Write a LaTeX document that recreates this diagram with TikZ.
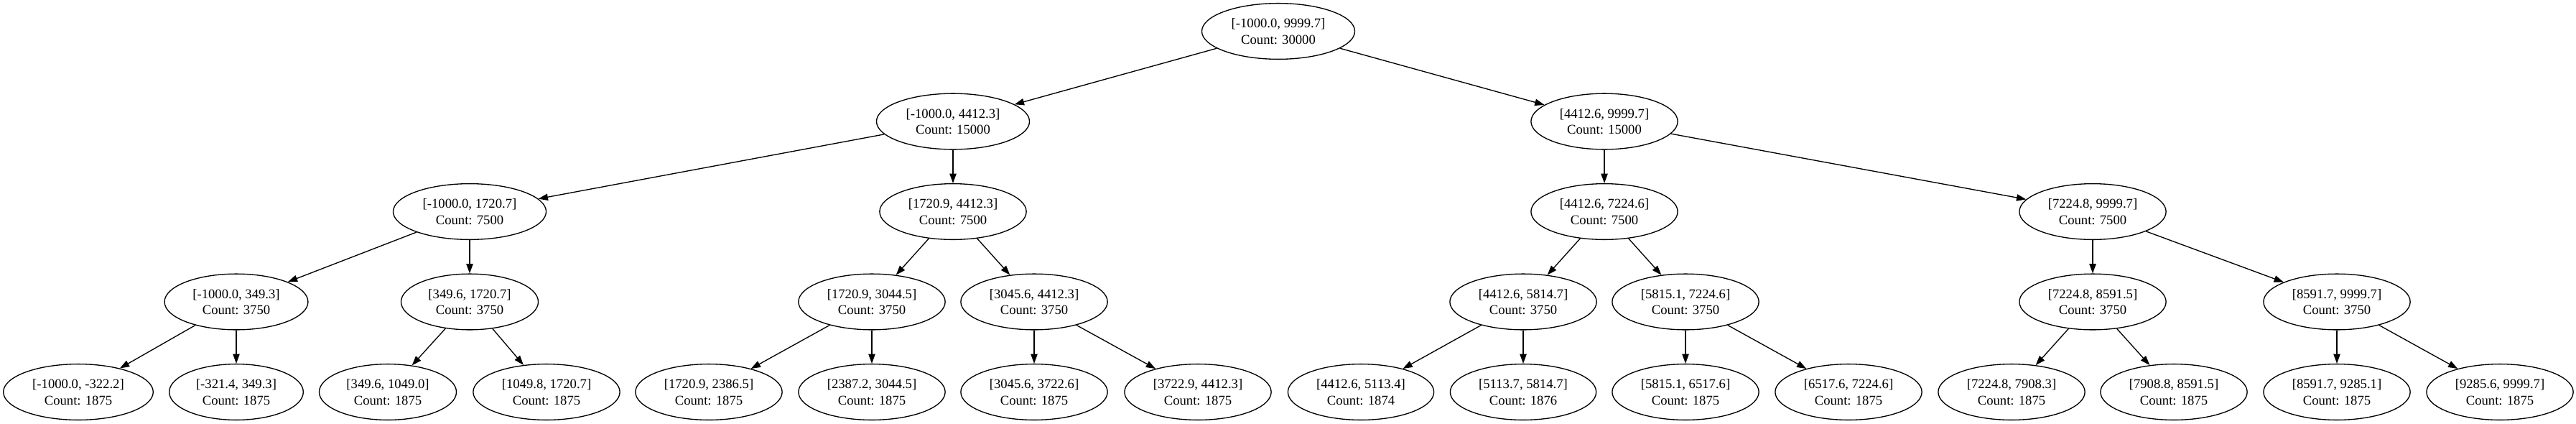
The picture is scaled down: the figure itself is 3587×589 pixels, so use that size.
\documentclass[tikz,border=0pt]{standalone}
\usepackage{fontspec}
\setmainfont{Liberation Serif}
\usetikzlibrary{arrows.meta,shapes.geometric}
\begin{document}
\begin{tikzpicture}[x=0.75bp,y=-0.75bp,
  tn/.style={ellipse, draw, line width=1bp, inner xsep=7.5bp, inner ysep=0pt,
    minimum height=58.3bp, align=center, font=\fontsize{14bp}{16.8bp}\selectfont,
    execute at begin node={\rule{0pt}{13.5bp}}},
  ed/.style={-{Triangle[length=10bp,width=7bp]}, line width=1bp}]
\useasboundingbox (0,0) rectangle (3587,589);
% level 0
\node[tn] (r) at (1780,43.5) {[-1000.0, 9999.7]\\Count: 30000};
% level 1
\node[tn] (a) at (1327,169) {[-1000.0, 4412.3]\\Count: 15000};
\node[tn] (b) at (2234,169) {[4412.6, 9999.7]\\Count: 15000};
% level 2
\node[tn] (aa) at (654,294.5) {[-1000.0, 1720.7]\\Count: 7500};
\node[tn] (ab) at (1327,294.5) {[1720.9, 4412.3]\\Count: 7500};
\node[tn] (ba) at (2234,294.5) {[4412.6, 7224.6]\\Count: 7500};
\node[tn] (bb) at (2914,294.5) {[7224.8, 9999.7]\\Count: 7500};
% level 3
\node[tn] (aaa) at (329,420) {[-1000.0, 349.3]\\Count: 3750};
\node[tn] (aab) at (654,420) {[349.6, 1720.7]\\Count: 3750};
\node[tn] (aba) at (1214,420) {[1720.9, 3044.5]\\Count: 3750};
\node[tn] (abb) at (1440,420) {[3045.6, 4412.3]\\Count: 3750};
\node[tn] (baa) at (2121,420) {[4412.6, 5814.7]\\Count: 3750};
\node[tn] (bab) at (2347,420) {[5815.1, 7224.6]\\Count: 3750};
\node[tn] (bba) at (2914,420) {[7224.8, 8591.5]\\Count: 3750};
\node[tn] (bbb) at (3254,420) {[8591.7, 9999.7]\\Count: 3750};
% level 4
\node[tn] (l1) at (109,545.5) {[-1000.0, -322.2]\\Count: 1875};
\node[tn] (l2) at (329,545.5) {[-321.4, 349.3]\\Count: 1875};
\node[tn] (l3) at (540,545.5) {[349.6, 1049.0]\\Count: 1875};
\node[tn] (l4) at (761,545.5) {[1049.8, 1720.7]\\Count: 1875};
\node[tn] (l5) at (987,545.5) {[1720.9, 2386.5]\\Count: 1875};
\node[tn] (l6) at (1214,545.5) {[2387.2, 3044.5]\\Count: 1875};
\node[tn] (l7) at (1440,545.5) {[3045.6, 3722.6]\\Count: 1875};
\node[tn] (l8) at (1668,545.5) {[3722.9, 4412.3]\\Count: 1875};
\node[tn] (l9) at (1895,545.5) {[4412.6, 5113.4]\\Count: 1874};
\node[tn] (l10) at (2121,545.5) {[5113.7, 5814.7]\\Count: 1876};
\node[tn] (l11) at (2347,545.5) {[5815.1, 6517.6]\\Count: 1875};
\node[tn] (l12) at (2574,545.5) {[6517.6, 7224.6]\\Count: 1875};
\node[tn] (l13) at (2801,545.5) {[7224.8, 7908.3]\\Count: 1875};
\node[tn] (l14) at (3027,545.5) {[7908.8, 8591.5]\\Count: 1875};
\node[tn] (l15) at (3254,545.5) {[8591.7, 9285.1]\\Count: 1875};
\node[tn] (l16) at (3481,545.5) {[9285.6, 9999.7]\\Count: 1875};
% edges
\draw[ed] (r) -- (a);
\draw[ed] (r) -- (b);
\draw[ed] (a) -- (aa);
\draw[ed] (a) -- (ab);
\draw[ed] (b) -- (ba);
\draw[ed] (b) -- (bb);
\draw[ed] (aa) -- (aaa);
\draw[ed] (aa) -- (aab);
\draw[ed] (ab) -- (aba);
\draw[ed] (ab) -- (abb);
\draw[ed] (ba) -- (baa);
\draw[ed] (ba) -- (bab);
\draw[ed] (bb) -- (bba);
\draw[ed] (bb) -- (bbb);
\draw[ed] (aaa) -- (l1);
\draw[ed] (aaa) -- (l2);
\draw[ed] (aab) -- (l3);
\draw[ed] (aab) -- (l4);
\draw[ed] (aba) -- (l5);
\draw[ed] (aba) -- (l6);
\draw[ed] (abb) -- (l7);
\draw[ed] (abb) -- (l8);
\draw[ed] (baa) -- (l9);
\draw[ed] (baa) -- (l10);
\draw[ed] (bab) -- (l11);
\draw[ed] (bab) -- (l12);
\draw[ed] (bba) -- (l13);
\draw[ed] (bba) -- (l14);
\draw[ed] (bbb) -- (l15);
\draw[ed] (bbb) -- (l16);
\end{tikzpicture}
\end{document}
